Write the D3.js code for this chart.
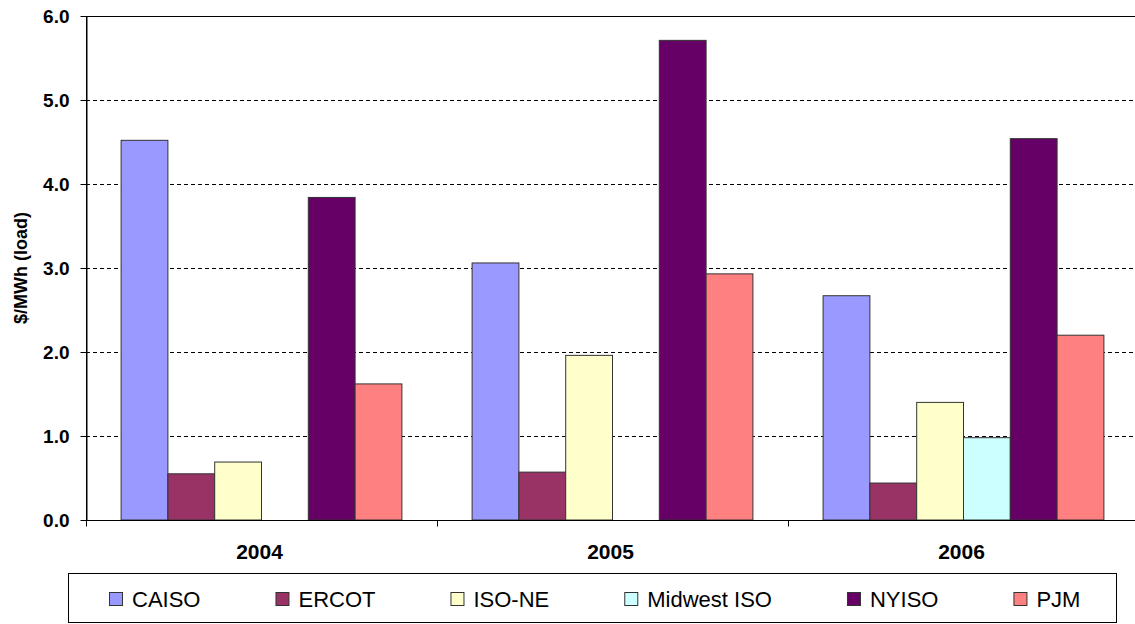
<!DOCTYPE html>
<html>
<head>
<meta charset="utf-8">
<script src="https://cdn.jsdelivr.net/npm/d3@7"></script>
<style>
  body { margin: 0; background: #fff; }
  svg { display: block; font-family: Arial, 'Liberation Sans', sans-serif; }
</style>
</head>
<body>
<div id="chart"></div>
<script>
// Data
const years = ['2004', '2005', '2006'];
const seriesNames = ['CAISO', 'ERCOT', 'ISO-NE', 'Midwest ISO', 'NYISO', 'PJM'];
const caiso = [4.52, 3.06, 2.67];
const ercot = [0.55, 0.57, 0.44];
const isoNe = [0.69, 1.96, 1.40];
const midwestIso = [null, null, 0.98];
const nyiso = [3.84, 5.71, 4.54];
const pjm = [1.62, 2.93, 2.20];
const yTicks = [0, 1, 2, 3, 4, 5, 6];

const seriesValues = [caiso, ercot, isoNe, midwestIso, nyiso, pjm];
const colors = ['#9999FF', '#993366', '#FFFFCC', '#CCFFFF', '#660066', '#FF8080'];

const W = 1135, H = 624;
const plot = { left: 86, top: 16, right: 1139, bottom: 520 };

const svg = d3.select('#chart')
    .append('svg')
    .attr('width', W)
    .attr('height', H);

// Scales
const x0 = d3.scaleBand()
    .domain(years)
    .range([plot.left, plot.right])
    .paddingInner(0);

const x1 = d3.scaleBand()
    .domain(seriesNames)
    .range([0, x0.bandwidth()])
    .paddingInner(0)
    .paddingOuter(0.75);

const y = d3.scaleLinear()
    .domain([0, 6])
    .range([plot.bottom, plot.top]);

const color = d3.scaleOrdinal().domain(seriesNames).range(colors);

// Gridlines
svg.append('g')
    .selectAll('line')
    .data(yTicks.filter(d => d > 0 && d < 6))
    .enter()
    .append('line')
    .attr('x1', plot.left)
    .attr('x2', plot.right)
    .attr('y1', d => y(d) + 0.5)
    .attr('y2', d => y(d) + 0.5)
    .attr('stroke', '#000')
    .attr('stroke-width', 1)
    .attr('stroke-dasharray', '4,3');

// Plot frame (top)
svg.append('rect')
    .attr('x', plot.left + 0.5)
    .attr('y', plot.top + 0.5)
    .attr('width', plot.right - plot.left)
    .attr('height', plot.bottom - plot.top)
    .attr('fill', 'none')
    .attr('stroke', '#000');

// Bars
const rows = [];
years.forEach((yr, i) => {
    seriesNames.forEach((s, j) => {
        const v = seriesValues[j][i];
        if (v != null) rows.push({ year: yr, series: s, value: v });
    });
});

svg.append('g')
    .selectAll('rect')
    .data(rows)
    .enter()
    .append('rect')
    .attr('x', d => x0(d.year) + x1(d.series))
    .attr('y', d => y(d.value))
    .attr('width', x1.bandwidth())
    .attr('height', d => y(0) - y(d.value))
    .attr('fill', d => color(d.series))
    .attr('stroke', '#333')
    .attr('stroke-width', 1);

// Y axis
const yAxis = svg.append('g')
    .attr('transform', `translate(${plot.left + 0.5},0)`)
    .call(d3.axisLeft(y)
        .tickValues(yTicks)
        .tickFormat(d3.format('.1f'))
        .tickSize(6)
        .tickSizeOuter(0)
        .tickPadding(11));
yAxis.select('.domain').attr('stroke', '#000');
yAxis.selectAll('.tick line').attr('stroke', '#000');
yAxis.selectAll('.tick text')
    .attr('fill', '#000')
    .style('font-size', '19px')
    .style('font-weight', 'bold');

// X axis
const xAxis = svg.append('g')
    .attr('transform', `translate(0,${plot.bottom + 0.5})`);
xAxis.append('line')
    .attr('x1', plot.left)
    .attr('x2', plot.right)
    .attr('stroke', '#000');
xAxis.selectAll('.bound')
    .data(years.map(d => x0(d)).concat([plot.right]))
    .enter()
    .append('line')
    .attr('x1', d => Math.round(d) + 0.5)
    .attr('x2', d => Math.round(d) + 0.5)
    .attr('y1', 0)
    .attr('y2', 6)
    .attr('stroke', '#000');
xAxis.selectAll('.cat')
    .data(years)
    .enter()
    .append('text')
    .attr('x', d => x0(d) + x0.bandwidth() / 2 - 2)
    .attr('y', 38)
    .attr('text-anchor', 'middle')
    .style('font-size', '21px')
    .style('font-weight', 'bold')
    .text(d => d);

// Y axis title
svg.append('text')
    .attr('transform', `translate(27,${(plot.top + plot.bottom) / 2}) rotate(-90)`)
    .attr('text-anchor', 'middle')
    .style('font-size', '18px')
    .style('font-weight', 'bold')
    .text('$/MWh (load)');

// Legend
svg.append('rect')
    .attr('x', 68.5)
    .attr('y', 573.5)
    .attr('width', 1048)
    .attr('height', 49)
    .attr('fill', '#fff')
    .attr('stroke', '#000');

const legend = svg.append('g');
let lx = 109;
seriesNames.forEach(name => {
    const g = legend.append('g').attr('transform', `translate(${lx},0)`);
    g.append('rect')
        .attr('x', 0.5)
        .attr('y', 592.5)
        .attr('width', 13)
        .attr('height', 13)
        .attr('fill', color(name))
        .attr('stroke', '#333');
    const t = g.append('text')
        .attr('x', 23)
        .attr('y', 607)
        .style('font-size', '22px')
        .text(name);
    lx += 23 + t.node().getComputedTextLength() + 75;
});
</script>
</body>
</html>
